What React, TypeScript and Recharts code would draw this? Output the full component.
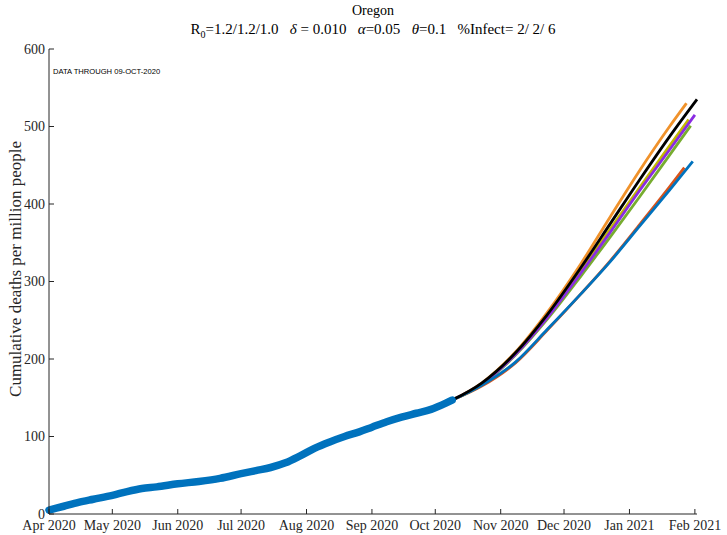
import React from "react";
import { LineChart, Line, XAxis, YAxis } from "recharts";

// days counted from 1 Apr 2020
const monthTicks = [0, 30, 61, 91, 122, 153, 183, 214, 244, 275, 306];
const monthLabels = [
  "Apr 2020", "May 2020", "Jun 2020", "Jul 2020", "Aug 2020", "Sep 2020",
  "Oct 2020", "Nov 2020", "Dec 2020", "Jan 2021", "Feb 2021",
];
const yTicks = [0, 100, 200, 300, 400, 500, 600];

const obsDays = [0, 7, 14, 21, 30, 37, 44, 51, 61, 71, 81, 91, 98, 105, 112, 119, 126, 133, 140, 147, 153, 160, 167, 174, 181, 188, 191];
const obsDeaths = [5, 10, 15, 19, 24, 29, 33, 35, 39, 42, 46, 52, 56, 60, 66, 75, 85, 93, 100, 106, 112, 119, 125, 130, 135, 143, 147];

const projDays = [191, 205, 221, 236, 252, 266, 280, 294];
const projNames = ["red", "orange", "olive", "green", "purple", "blue", "black"];
const projColors = ["#D95319", "#F0922B", "#C2B800", "#77AC30", "#8A2BE2", "#0072BD", "#000000"];
const projEndDays = [301, 302, 303, 304, 306, 305, 307];
const projValues = [
  [147, 165, 195, 237, 284, 327, 374, 422, 447],
  [147, 169, 209, 260, 323, 384, 444, 500, 530],
  [147, 168, 207, 255, 314, 368, 422, 475, 509],
  [147, 167, 205, 251, 307, 358, 410, 463, 501],
  [147, 168, 206, 253, 311, 364, 418, 470, 515],
  [147, 166, 196, 238, 284, 326, 372, 418, 455],
  [147, 169, 208, 257, 318, 375, 432, 487, 535],
];

const observed = obsDays.map((d, i) => ({ day: d, deaths: obsDeaths[i] }));
const projections = projNames.map((name, s) => ({
  name,
  color: projColors[s],
  data: [...projDays, projEndDays[s]].map((d, i) => ({ day: d, deaths: projValues[s][i] })),
}));

const serif = "'Liberation Serif', 'Times New Roman', serif";
const axisColor = "#262626";

export default function App() {
  return (
    <div style={{ position: "absolute", left: 0, top: 0, width: 727, height: 535, background: "#fff", fontFamily: serif }}>
      <div style={{ position: "absolute", left: 49, width: 648, top: 3, textAlign: "center", fontSize: 14, color: "#000" }}>
        Oregon
      </div>
      <div style={{ position: "absolute", left: 49, width: 648, top: 21, textAlign: "center", fontSize: 15, color: "#000", whiteSpace: "pre" }}>
        R<sub style={{ fontSize: 10 }}>0</sub>=1.2/1.2/1.0   <i>δ</i> = 0.010   <i>α</i>=0.05   <i>θ</i>=0.1   %Infect= 2/ 2/ 6
      </div>
      <div style={{ position: "absolute", left: 53, top: 67, fontFamily: "'Liberation Sans', Arial, sans-serif", fontSize: 7.6, color: "#000" }}>
        DATA THROUGH 09-OCT-2020
      </div>
      <div
        style={{
          position: "absolute", left: 16, top: 269, transform: "translate(-50%, -50%) rotate(-90deg)",
          whiteSpace: "nowrap", fontSize: 17, color: "#262626",
        }}
      >
        Cumulative deaths per million people
      </div>
      <LineChart width={727} height={535} margin={{ top: 49, right: 30, left: 0, bottom: 0 }}>
        <XAxis
          dataKey="day"
          type="number"
          domain={[0, 306]}
          ticks={monthTicks}
          tickFormatter={(v) => monthLabels[monthTicks.indexOf(v)]}
          allowDuplicatedCategory={false}
          height={21}
          tickSize={-5}
          tickMargin={11}
          stroke={axisColor}
          tick={{ fill: "#262626", fontSize: 14, fontFamily: serif }}
          interval={0}
        />
        <YAxis
          type="number"
          domain={[0, 600]}
          ticks={yTicks}
          width={49}
          tickSize={-5}
          tickMargin={9}
          stroke={axisColor}
          tick={{ fill: "#262626", fontSize: 14, fontFamily: serif }}
          interval={0}
        />
        {projections.map((p) => (
          <Line
            key={p.name}
            data={p.data}
            dataKey="deaths"
            type="monotone"
            stroke={p.color}
            strokeWidth={2.8}
            dot={false}
            isAnimationActive={false}
          />
        ))}
        <Line
          data={observed}
          dataKey="deaths"
          type="monotone"
          stroke="#0072BD"
          strokeWidth={7.5}
          strokeLinecap="round"
          dot={false}
          isAnimationActive={false}
        />
      </LineChart>
    </div>
  );
}
